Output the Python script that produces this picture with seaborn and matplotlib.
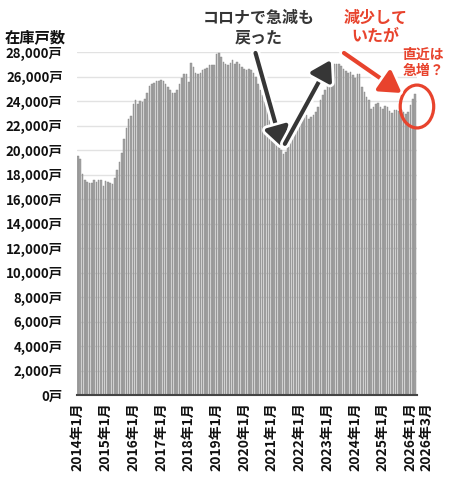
import matplotlib
matplotlib.use("Agg")
import matplotlib.pyplot as plt
import matplotlib.patheffects as pe
import matplotlib.transforms as mtransforms
from matplotlib.patches import Ellipse
import seaborn as sns
import pandas as pd

# ---- data ----
years = list(range(2014, 2027))
month_labels = [f"{y}年{m}月" for y in years for m in range(1, 13)][:147]

stock_2014_2017 = [19550, 19250, 18080, 17560, 17370, 17300, 17300, 17520, 17400, 17580, 17560, 17060,
                   17460, 17380, 17320, 17240, 17720, 18380, 19000, 19740, 20900, 21780, 22500, 22740,
                   23720, 24080, 23780, 24000, 23900, 24200, 24650, 25200, 25380, 25480, 25640, 25620,
                   25700, 25650]
stock_2017_2020 = [25420, 25150, 24870, 24680, 24650, 24930, 25420, 25900, 26180, 26230, 25550, 27100,
                   26780, 26320, 26180, 26320, 26500, 26640, 26720, 26910, 26970, 26970, 27860, 27920,
                   27590, 27180, 27000, 26910, 27100, 27370, 27050, 27180, 27050, 26800, 26640, 26560,
                   26600]
stock_2020_2023 = [26500, 26300, 26000, 25420, 24870, 24460, 23910, 23370, 22420, 21600, 21200, 20930,
                   20520, 19980, 19710, 19850, 20250, 20800, 21070, 21480, 21750, 22020, 22430, 22920,
                   22840, 22570, 22700, 22840, 23110, 23520, 24060, 24470, 24870, 25420, 26230, 26780,
                   26990, 27050]
stock_2023_2026 = [27050, 26830, 26640, 26450, 26290, 26340, 26150, 25900, 26230, 26180, 25150, 24740,
                   24330, 24060, 23380, 23520, 23790, 23840, 23520, 23380, 23570, 23520, 23190, 23030,
                   23240, 23240, 23190, 23300, 23110, 22920, 23110, 23650, 24200, 24600]
stock = stock_2014_2017 + stock_2017_2020 + stock_2020_2023 + stock_2023_2026

tick_labels = [f"{y}年1月" for y in years] + ["2026年3月"]
y_ticks = list(range(0, 28001, 2000))

df = pd.DataFrame({"month": month_labels, "stock": stock})

# ---- style ----
sns.set_theme(style="white")
plt.rcParams["font.family"] = ["Noto Sans CJK JP", "DejaVu Sans"]

fig = plt.figure(figsize=(4.5, 4.86), dpi=100)
ax = fig.add_axes([76.5 / 450, 91 / 486, 340 / 450, 343 / 486])

sns.barplot(data=df, x="month", y="stock", ax=ax, color="#a4a4a4", saturation=1,
            edgecolor="#858585", linewidth=0.3, width=0.68)

ax.set_xlim(-0.6, len(stock) - 0.4)
ax.set_ylim(0, 28000)
ax.set_xlabel("")
ax.set_ylabel("")

ax.set_yticks(y_ticks)
ax.set_yticklabels([f"{v:,}戸" for v in y_ticks], fontsize=9.5, fontweight="bold", color="#111")
tick_pos = [month_labels.index(t) for t in tick_labels]
ax.set_xticks(tick_pos)
ax.set_xticklabels(tick_labels, rotation=90, fontsize=10, fontweight="bold", color="#111")
ax.tick_params(axis="y", length=0, pad=10)
ax.tick_params(axis="x", length=0, pad=5)
# nudge the last label so it sits just beside 2026年1月
last = ax.get_xticklabels()[-1]
last.set_transform(last.get_transform() + mtransforms.ScaledTranslation(11 / 100, 0, fig.dpi_scale_trans))

ax.grid(axis="y", color="#e2e2e2", lw=1)
ax.set_axisbelow(True)
for s in ["top", "right", "left"]:
    ax.spines[s].set_visible(False)
ax.spines["bottom"].set_color("#444")
ax.spines["bottom"].set_linewidth(1.5)

fig.text(5 / 450, 1 - 37.5 / 486, "在庫戸数", ha="left", va="center", fontsize=11, fontweight="bold", color="#111")

# annotations
dark = "#363636"
red = "#e8432d"
stroke = [pe.withStroke(linewidth=7, foreground="white")]
arrow_dark = dict(arrowstyle="-|>,head_length=0.65,head_width=0.4", color=dark, lw=3.0,
                  mutation_scale=18, shrinkA=0, shrinkB=0, path_effects=stroke)
ax.annotate("", xy=(88.4, 20245), xytext=(76.9, 27920), arrowprops=arrow_dark, annotation_clip=False)
ax.annotate("", xy=(109.5, 27350), xytext=(89.6, 20500), arrowprops=arrow_dark, annotation_clip=False)
arrow_red = dict(arrowstyle="-|>,head_length=0.7,head_width=0.42", color=red, lw=3.0,
                 mutation_scale=18, shrinkA=0, shrinkB=0, path_effects=stroke)
ax.annotate("", xy=(140.2, 24650), xytext=(115.2, 27920), arrowprops=arrow_red, annotation_clip=False)

ax.add_patch(Ellipse((146.8, 23550), width=14.5, height=3500, fill=False, edgecolor=red, lw=2.3,
                     clip_on=False))

fig.text(259 / 450, 1 - 27.5 / 486, "コロナで急減も\n戻った", ha="center", va="center", fontsize=11.5,
         fontweight="bold", color=dark, linespacing=1.25)
fig.text(375.5 / 450, 1 - 27 / 486, "減少して\nいたが", ha="center", va="center", fontsize=11.5,
         fontweight="bold", color=red, linespacing=1.2)
fig.text(423 / 450, 1 - 63 / 486, "直近は\n急増？", ha="center", va="center", fontsize=10,
         fontweight="bold", color=red, linespacing=1.2)

fig.savefig("out.png", dpi=100)
